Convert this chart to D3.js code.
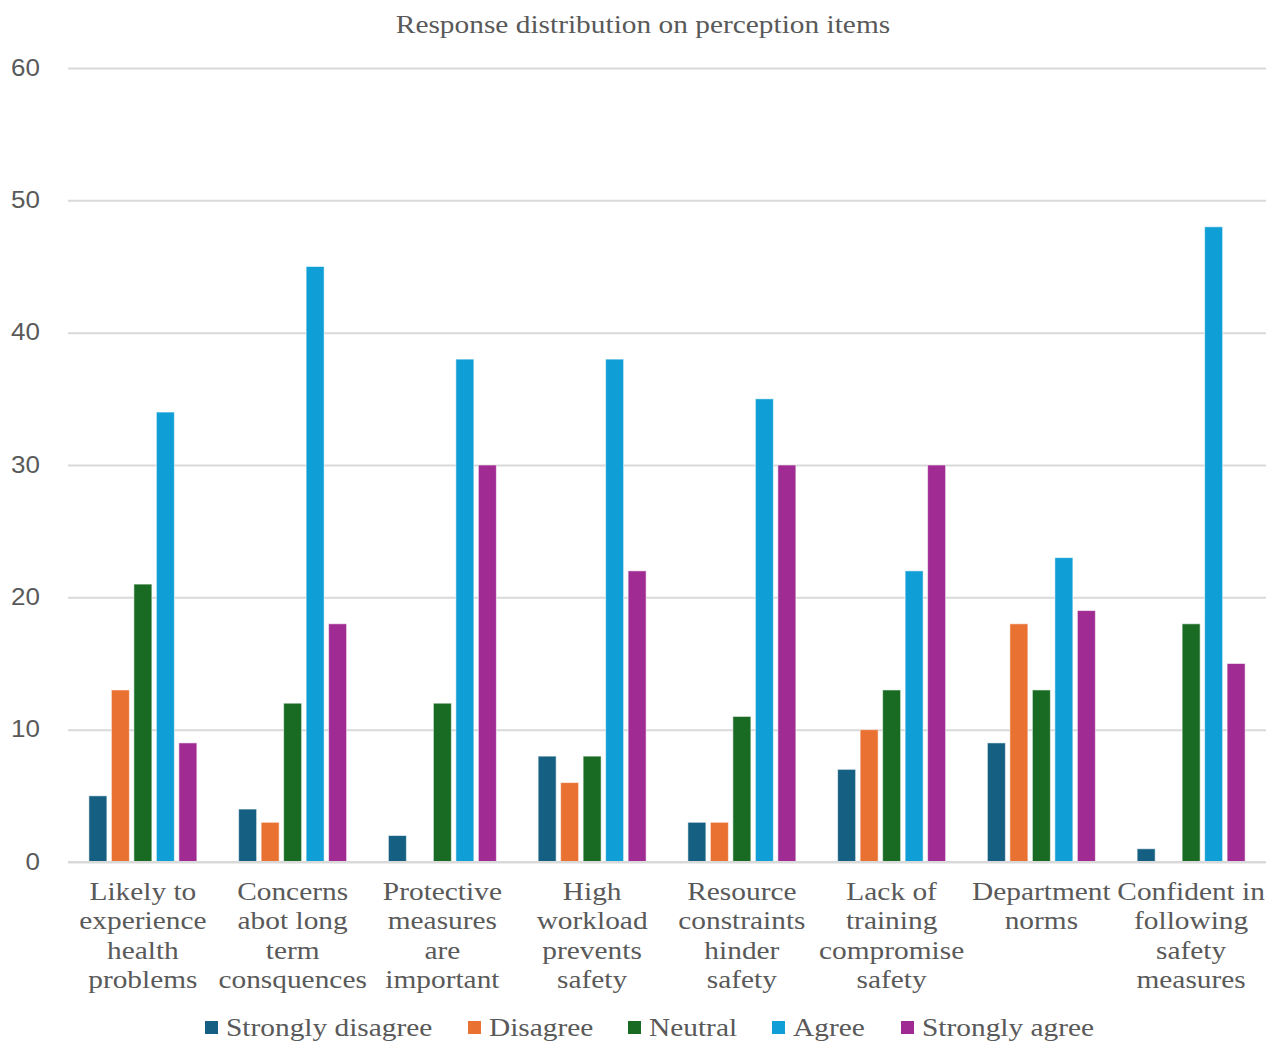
<!DOCTYPE html>
<html>
<head>
<meta charset="utf-8">
<script src="https://cdn.jsdelivr.net/npm/d3@7"></script>
<style>
  html, body { margin: 0; padding: 0; background: #ffffff; }
  svg { display: block; }
</style>
</head>
<body>
<svg id="chart" width="1284" height="1041"></svg>
<script>
// Perception items (category labels, with their line breaks)
const categories = [
  "Likely to experience health problems",
  "Concerns abot long term consquences",
  "Protective measures are important",
  "High workload prevents safety",
  "Resource constraints hinder safety",
  "Lack of training compromise safety",
  "Department norms",
  "Confident in following safety measures"
];
const categoryLines = [
  ["Likely to", "experience", "health", "problems"],
  ["Concerns", "abot long", "term", "consquences"],
  ["Protective", "measures", "are", "important"],
  ["High", "workload", "prevents", "safety"],
  ["Resource", "constraints", "hinder", "safety"],
  ["Lack of", "training", "compromise", "safety"],
  ["Department", "norms"],
  ["Confident in", "following", "safety", "measures"]
];

const seriesNames = ["Strongly disagree", "Disagree", "Neutral", "Agree", "Strongly agree"];
const stronglyDisagree = [5, 4, 2, 8, 3, 7, 9, 1];
const disagree         = [13, 3, 0, 6, 3, 10, 18, 0];
const neutral          = [21, 12, 12, 8, 11, 13, 13, 18];
const agree            = [34, 45, 38, 38, 35, 22, 23, 48];
const stronglyAgree    = [9, 18, 30, 22, 30, 30, 19, 15];
const seriesValues = [stronglyDisagree, disagree, neutral, agree, stronglyAgree];
const seriesColors = ["#156082", "#e97132", "#196b24", "#0f9ed5", "#a02b93"];

const yTicks = [0, 10, 20, 30, 40, 50, 60];
const title = "Response distribution on perception items";

const svg = d3.select("#chart");
const plot = { left: 68, right: 1266, top: 68, bottom: 862 };
const textColor = "#595959";
const serif = "'Liberation Serif', 'Times New Roman', serif";
const sans = "'Liberation Sans', Arial, sans-serif";
const stretch = 1.13;

const x0 = d3.scaleBand().domain(categories).range([plot.left, plot.right])
  .paddingInner(0.279).paddingOuter(0.1395);
const x1 = d3.scaleBand().domain(seriesNames).range([0, x0.bandwidth()]).paddingInner(0.2);
const y = d3.scaleLinear().domain([0, 60]).range([plot.bottom, plot.top]);

// Title
svg.append("g")
  .attr("transform", `translate(643,33) scale(${stretch},1)`)
  .append("text")
  .attr("text-anchor", "middle")
  .attr("font-family", serif)
  .attr("font-size", 26)
  .attr("fill", textColor)
  .text(title);

// Gridlines and y tick labels
const yAxis = d3.axisLeft(y).tickValues(yTicks).tickSize(-(plot.right - plot.left)).tickPadding(0);
const gy = svg.append("g").attr("transform", `translate(${plot.left},0)`).call(yAxis);
gy.select(".domain").remove();
gy.selectAll(".tick line").attr("stroke", "#d9d9d9").attr("stroke-width", 2);
gy.selectAll(".tick text").remove();
gy.selectAll(".tick").append("g")
  .attr("transform", `translate(-28,7) scale(${stretch},1)`)
  .append("text")
  .attr("text-anchor", "end")
  .attr("font-family", sans)
  .attr("font-size", 23)
  .attr("fill", textColor)
  .text(d => d);

// Bars
const groups = svg.append("g").selectAll("g.cat")
  .data(categories)
  .join("g")
  .attr("class", "cat")
  .attr("transform", d => `translate(${x0(d)},0)`);

groups.selectAll("rect")
  .data((d, i) => seriesNames.map((s, k) => ({ s, v: seriesValues[k][i], c: seriesColors[k] })))
  .join("rect")
  .filter(d => d.v > 0)
  .attr("x", d => x1(d.s))
  .attr("y", d => y(d.v))
  .attr("width", x1.bandwidth())
  .attr("height", d => y(0) - y(d.v))
  .attr("fill", d => d.c)
  .attr("stroke", "#ffffff")
  .attr("stroke-opacity", 0.55)
  .attr("stroke-width", 1);

// Category axis
const xAxis = d3.axisBottom(x0).tickSize(0).tickFormat("");
const gx = svg.append("g").attr("transform", `translate(0,${plot.bottom})`).call(xAxis);
gx.select(".domain").attr("stroke", "#d9d9d9").attr("stroke-width", 2)
  .attr("d", `M${plot.left},0H${plot.right}`);
gx.selectAll(".tick").each(function (d, i) {
  const g = d3.select(this).append("g")
    .attr("transform", `translate(0,38) scale(${stretch},1)`);
  categoryLines[i].forEach((line, j) => {
    g.append("text")
      .attr("y", j * 29.4)
      .attr("text-anchor", "middle")
      .attr("font-family", serif)
      .attr("font-size", 26)
      .attr("fill", textColor)
      .text(line);
  });
});

// Legend
const legendX = [205, 468, 628, 772, 901];
const legend = svg.append("g").selectAll("g.item")
  .data(seriesNames)
  .join("g")
  .attr("class", "item")
  .attr("transform", (d, i) => `translate(${legendX[i]},1036)`);
legend.append("rect")
  .attr("x", 0).attr("y", -15)
  .attr("width", 13).attr("height", 13)
  .attr("fill", (d, i) => seriesColors[i]);
legend.append("g")
  .attr("transform", `translate(21,0) scale(${stretch},1)`)
  .append("text")
  .attr("font-family", serif)
  .attr("font-size", 26)
  .attr("fill", textColor)
  .text(d => d);
</script>
</body>
</html>
